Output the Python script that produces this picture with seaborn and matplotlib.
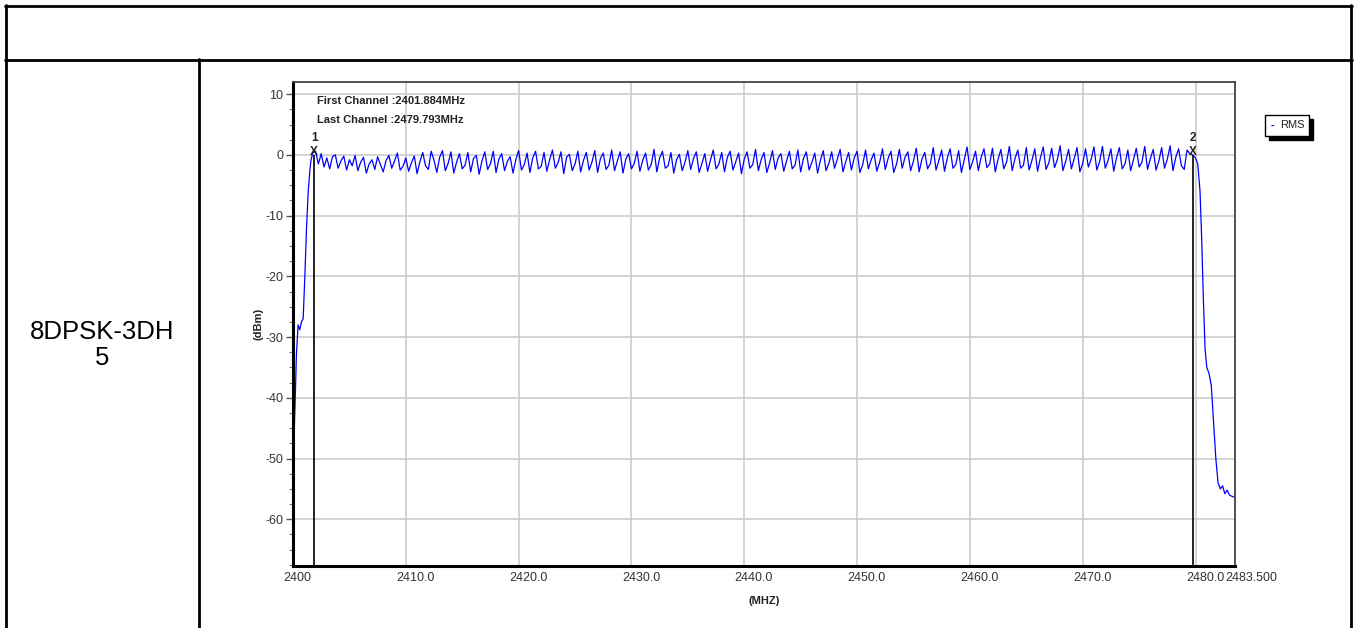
import numpy as np
import pandas as pd
import matplotlib.pyplot as plt
import matplotlib.transforms as mtransforms
import seaborn as sns
from matplotlib.lines import Line2D
from matplotlib.patches import Rectangle

# data - left band edge (MHz, dBm)
left_freq = [2400.0, 2400.1, 2400.2, 2400.3, 2400.45, 2400.6, 2400.75, 2400.9,
             2401.05, 2401.2, 2401.35, 2401.5, 2401.6]
left_level = [-50.0, -46.0, -40.0, -33.0, -28.0, -28.8, -27.5, -27.0,
              -20.0, -12.0, -6.0, -2.5, -0.8]

# in-band trace, 0.25 MHz steps from 2401.75 to 2479.75
band_start = 2401.75
band_step = 0.25
band_level = [
    0.3, 0.6, -1.5, 0.2, -2.0, -0.5, -2.3, -0.3, 0.0, -2.2, -1.0, -0.2, -2.5, -0.8, -1.8, -0.1, -2.6, -1.2, -0.4, -3.0,
    -1.5, -0.8, -2.4, -0.3, -1.6, -2.8, -0.9, -0.1, -2.2, -1.0, 0.3, -2.5, -1.9, -0.5, -2.7, -1.3, -0.2, -3.1, -1.1, 0.4,
    -1.8, -2.4, 0.6, -0.9, -2.9, -0.4, 0.7, -2.6, -1.4, 0.5, -3.0, -1.2, 0.2, -2.3, -1.7, 0.4, -2.8, -0.6, -0.1, -3.2,
    -1.0, 0.5, -2.4, -1.5, 0.6, -2.9, -0.7, 0.2, -2.6, -1.1, -0.3, -3.0, -0.8, 0.7, -2.5, -1.6, 0.3, -2.9, -0.5, 0.6,
    -2.3, -1.9, 0.4, -2.7, -0.8, 0.8, -2.2, -1.3, 0.5, -3.1, -0.4, 0.1, -2.6, -1.5, 0.6, -2.8, -0.9, 0.4, -2.5, -1.2,
    0.7, -2.9, -0.6, 0.3, -2.4, -1.7, 0.8, -2.6, -1.0, 0.5, -3.0, -0.7, 0.2, -2.3, -1.4, 0.6, -2.7, -0.9, 0.3, -2.5,
    -1.6, 0.9, -2.8, -0.5, 0.6, -2.2, -1.8, 0.4, -3.0, -0.8, 0.1, -2.6, -1.2, 0.7, -2.4, -0.6, 0.5, -2.9, -1.4, 0.2,
    -2.7, -0.9, 0.8, -2.3, -1.5, 0.4, -2.8, -0.4, 0.6, -2.5, -1.1, 0.3, -3.1, -0.7, 0.5, -2.2, -1.6, 0.9, -2.6, -0.8,
    0.4, -2.9, -1.3, 0.7, -2.4, -0.5, 0.2, -2.7, -1.0, 0.6, -2.3, -1.7, 0.8, -2.8, -0.6, 0.5, -2.5, -1.2, 0.3, -3.0,
    -0.9, 0.7, -2.6, -1.4, 0.5, -2.2, -0.7, 0.9, -2.8, -1.1, 0.4, -2.5, -0.5, 0.6, -2.9, -1.6, 0.8, -2.3, -0.8, 0.3,
    -2.7, -1.2, 1.0, -2.4, -0.6, 0.6, -2.9, -1.5, 0.9, -2.2, -0.4, 0.5, -2.6, -1.0, 1.1, -2.8, -0.7, 0.4, -2.3, -1.4,
    1.2, -2.5, -0.9, 0.8, -2.7, -0.5, 1.0, -2.2, -1.6, 0.7, -2.9, -0.8, 1.3, -2.4, -1.1, 0.6, -2.6, -0.4, 1.0, -2.1,
    -1.5, 1.1, -2.8, -0.7, 0.9, -2.3, -1.2, 1.4, -2.6, -0.6, 0.8, -2.2, -1.7, 1.2, -2.5, -0.9, 1.0, -2.7, -0.5, 1.3,
    -2.4, -1.3, 1.1, -2.1, -0.8, 1.5, -2.6, -1.0, 0.9, -2.3, -0.6, 1.2, -2.8, -1.4, 1.0, -2.0, -0.7, 1.3, -2.5, -1.1,
    1.4, -2.2, -0.9, 1.0, -2.7, -0.5, 1.2, -2.3, -1.5, 0.8, -2.6, -0.8, 1.1, -2.0, -1.2, 1.4, -2.4, -0.6, 0.9, -2.5,
    -1.0, 1.2, -2.2, -0.7, 1.5, -2.6, -0.4, 1.0, -1.8, -2.4, 0.8, 0.2, 0.0,
]

# right band edge
right_freq = [2480.0, 2480.2, 2480.4, 2480.55, 2480.7, 2480.85, 2481.0, 2481.2,
              2481.4, 2481.6, 2481.8, 2482.0, 2482.2, 2482.4, 2482.6, 2482.8,
              2483.0, 2483.2, 2483.5]
right_level = [-0.5, -1.5, -6.0, -14.0, -24.0, -32.0, -35.0, -36.0,
               -38.0, -44.0, -50.0, -54.0, -55.0, -54.5, -55.8, -55.2,
               -56.0, -56.2, -56.4]

# markers
marker_freq = [2401.884, 2479.793]
marker_names = ['1', '2']
info_lines = ['First Channel :2401.884MHz', 'Last Channel :2479.793MHz']

x_ticks = [2400, 2410, 2420, 2430, 2440, 2450, 2460, 2470, 2480, 2483.5]
x_labels = ['2400', '2410.0', '2420.0', '2430.0', '2440.0', '2450.0',
            '2460.0', '2470.0', '2480.0', '2483.500']
y_ticks = [10, 0, -10, -20, -30, -40, -50, -60]

band_freq = band_start + band_step * np.arange(len(band_level))
df = pd.DataFrame({
    'freq': np.concatenate([left_freq, band_freq, right_freq]),
    'level': np.concatenate([left_level, band_level, right_level]),
})

sns.set_style('white')
plt.rcParams['font.family'] = ['Liberation Sans', 'DejaVu Sans']
plt.rcParams['axes.unicode_minus'] = False

fig = plt.figure(figsize=(13.56, 6.28), dpi=100)
W, H = 1356, 628
ax = fig.add_axes([293 / W, 1 - 566 / H, 942 / W, 484 / H])

sns.lineplot(data=df, x='freq', y='level', color='#0000ff', lw=0.9,
             estimator=None, sort=False, ax=ax)

ax.set_xlim(2400, 2483.5)
ax.set_ylim(-67.7, 12.0)
ax.set_xticks(x_ticks)
ax.set_xticklabels(x_labels)
ax.set_yticks(y_ticks)
ax.set_yticks(np.arange(-67.5, 12.5, 2.5), minor=True)
ax.tick_params(axis='x', length=0, pad=4, labelsize=9, labelcolor='#333333')
ax.tick_params(axis='y', which='major', left=True, length=5, width=1,
               color='#555555', pad=2, labelsize=9, labelcolor='#333333')
ax.tick_params(axis='y', which='minor', left=True, length=3, width=0.8,
               color='#777777')
ax.grid(True, which='major', color='#cccccc', lw=1.2)
ax.set_axisbelow(True)

# x labels start a little left of their tick, like the analyser software
shift = mtransforms.ScaledTranslation(-9.5 / 100, 0, fig.dpi_scale_trans)
for lab in ax.get_xticklabels():
    lab.set_horizontalalignment('left')
    lab.set_transform(lab.get_transform() + shift)

for s in ['left', 'bottom']:
    ax.spines[s].set_color('black')
    ax.spines[s].set_linewidth(2.2)
for s in ['top', 'right']:
    ax.spines[s].set_color('#444444')
    ax.spines[s].set_linewidth(1.3)

ax.set_xlabel('(MHZ)', fontsize=8, fontweight='bold', labelpad=9, color='#222222')
ax.set_ylabel('(dBm)', fontsize=8, fontweight='bold', labelpad=1.5, color='#222222')

# marker lines and labels
for f, name in zip(marker_freq, marker_names):
    ax.vlines(f, -67.7, 0, color='black', lw=1.2, zorder=3)
    ax.text(f, 0.4, 'X', ha='center', va='center', fontsize=8.5,
            fontweight='bold', color='#222222', zorder=4)
    ax.text(f, 2.8, name, ha='center', va='center', fontsize=8.5,
            fontweight='bold', color='#222222', zorder=4)

# channel info
ax.text(0.0255, 0.961, info_lines[0], transform=ax.transAxes, fontsize=8,
        fontweight='bold', color='#222222', va='center')
ax.text(0.0255, 0.922, info_lines[1], transform=ax.transAxes, fontsize=8,
        fontweight='bold', color='#222222', va='center')

# legend box with shadow
fig.patches.append(Rectangle((1269 / W, 1 - 140 / H), 44 / W, 21 / H,
                             transform=fig.transFigure, facecolor='black',
                             edgecolor='black', lw=1))
fig.patches.append(Rectangle((1265 / W, 1 - 136 / H), 44 / W, 21 / H,
                             transform=fig.transFigure, facecolor='white',
                             edgecolor='black', lw=1))
fig.text(1271 / W, 1 - 125.5 / H, '-', color='#0000ff', fontsize=8,
         va='center', fontweight='bold')
fig.text(1280 / W, 1 - 125.5 / H, 'RMS', color='#222222', fontsize=8,
         va='center')

# table frame
def hline(y, x0, x1):
    fig.add_artist(Line2D([x0 / W, x1 / W], [1 - y / H, 1 - y / H],
                          color='black', lw=2, transform=fig.transFigure))

def vline(x, y0, y1):
    fig.add_artist(Line2D([x / W, x / W], [1 - y0 / H, 1 - y1 / H],
                          color='black', lw=2, transform=fig.transFigure))

hline(5.5, 5, 1352)
hline(59.5, 5, 1352)
vline(6, 5, 628)
vline(1351, 5, 628)
vline(199, 59, 628)

fig.text(102 / W, 1 - 345 / H, '8DPSK-3DH\n5', ha='center', va='center',
         fontsize=18.5, linespacing=1.1, color='black')

plt.savefig('out.png', dpi=100)
